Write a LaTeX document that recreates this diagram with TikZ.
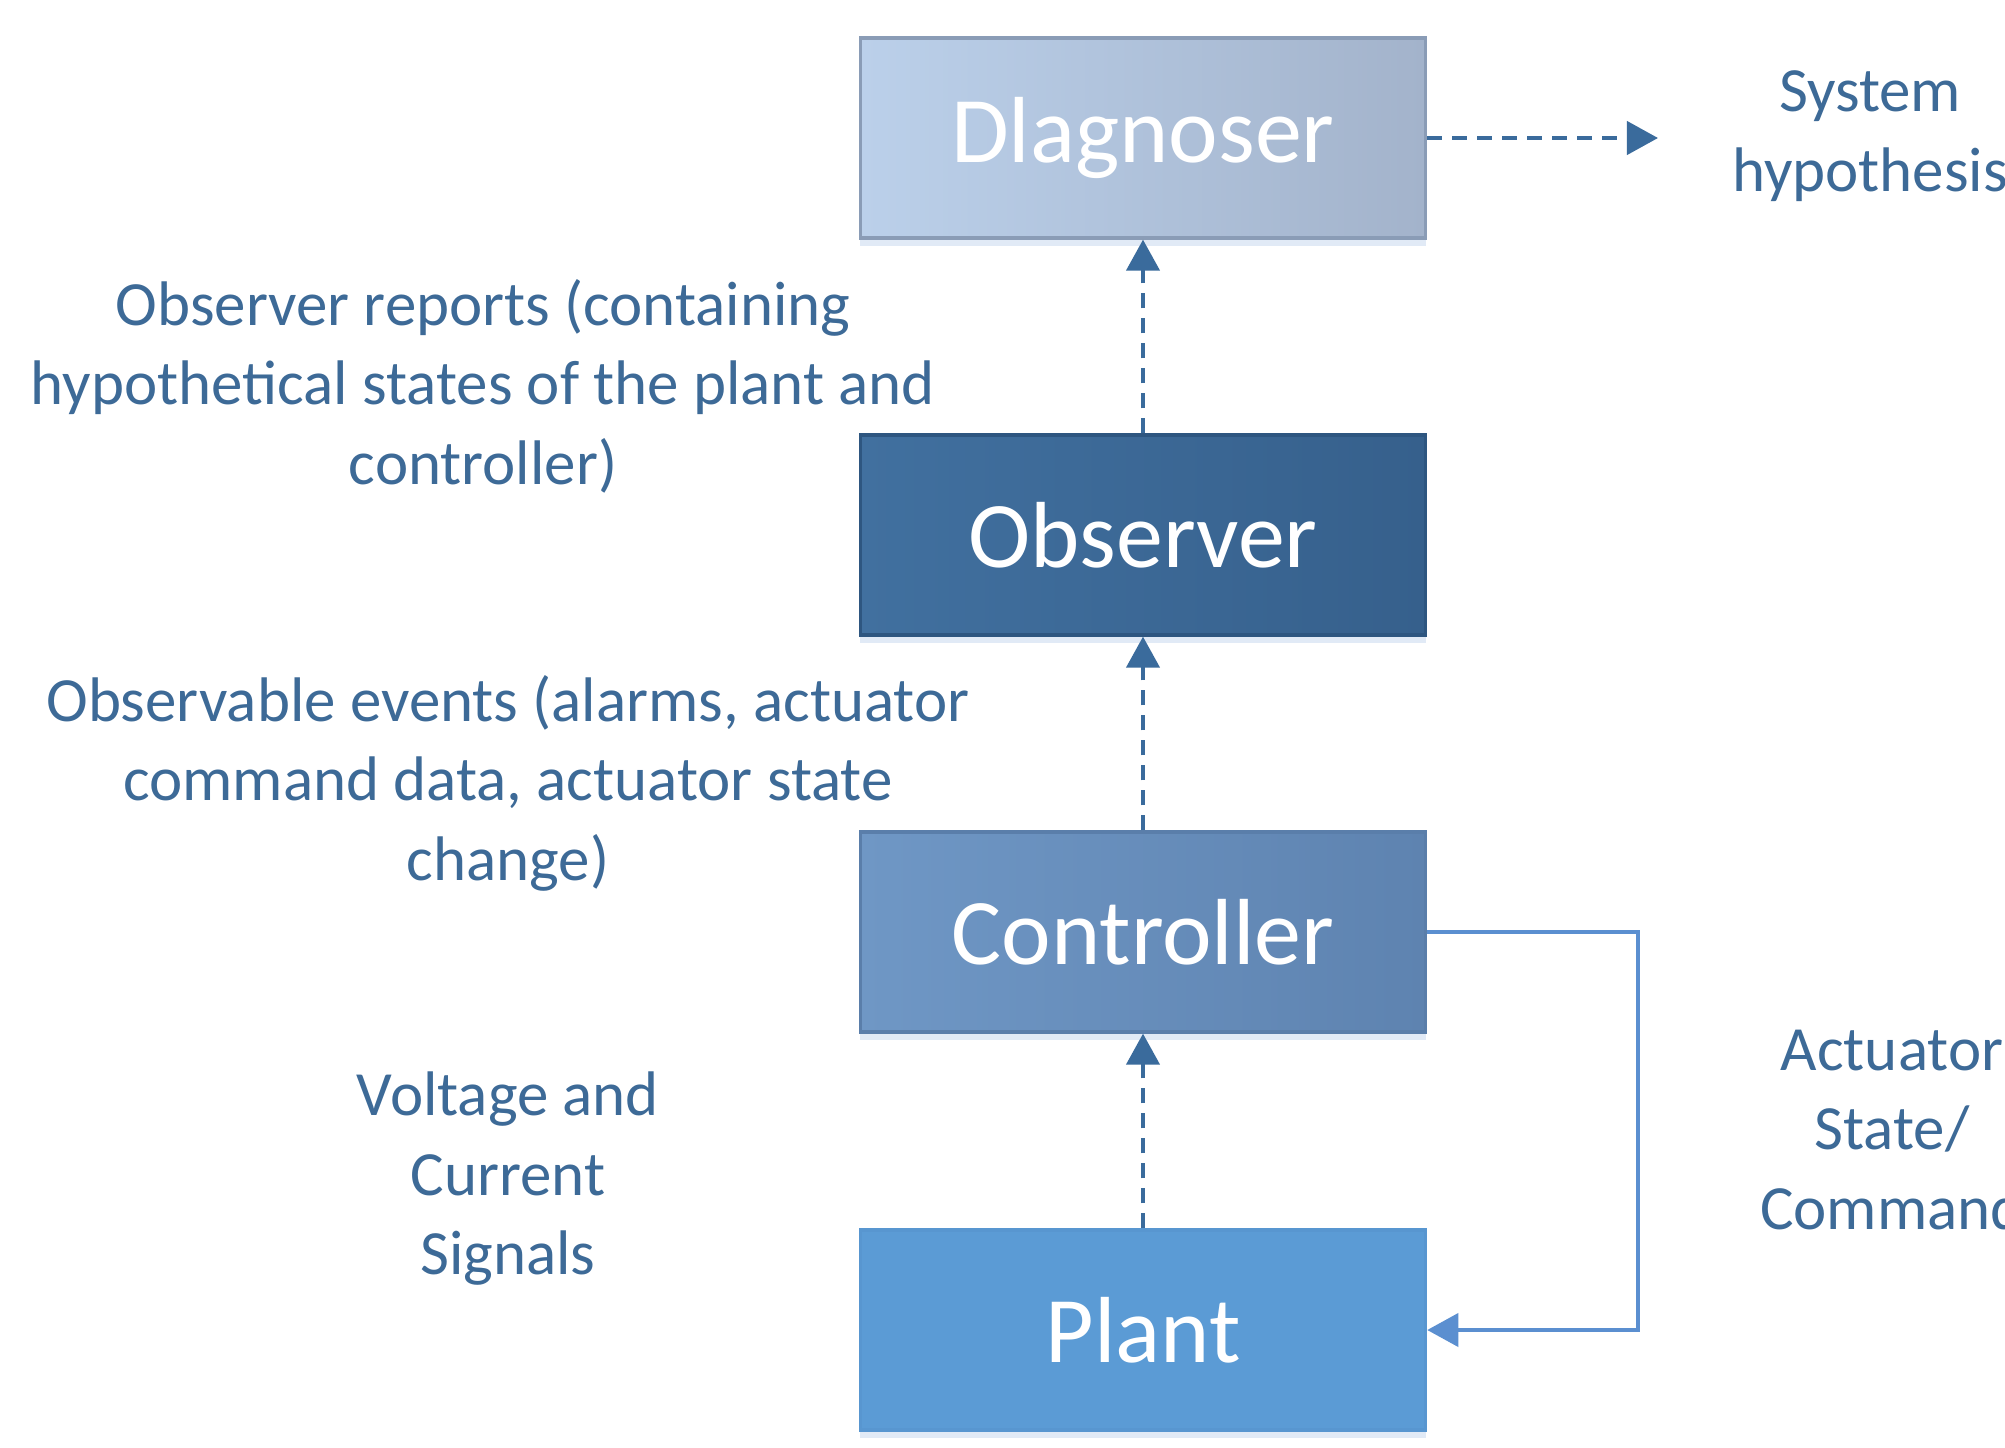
\documentclass[tikz,border=0pt]{standalone}
\usepackage{fontspec}
\setmainfont{Carlito}
\usetikzlibrary{arrows.meta,shadows}
\definecolor{labelblue}{HTML}{3D6A97}
\definecolor{arrowblue}{HTML}{3A6B9C}
\definecolor{loopblue}{HTML}{5B8FD0}
\definecolor{diagA}{HTML}{BBD0EA}
\definecolor{diagB}{HTML}{A3B3CB}
\definecolor{diagD}{HTML}{8A9CB6}
\definecolor{obsA}{HTML}{41709F}
\definecolor{obsB}{HTML}{36608C}
\definecolor{obsD}{HTML}{2E5680}
\definecolor{ctrlA}{HTML}{6F97C5}
\definecolor{ctrlB}{HTML}{5E83B0}
\definecolor{ctrlD}{HTML}{5A7EAA}
\definecolor{plantF}{HTML}{5B9BD5}
\definecolor{plantD}{HTML}{5896D0}
\tikzset{
  block/.style={draw, line width=0.9pt, minimum width=5.65cm, minimum height=2.0cm,
    text=white, font=\fontsize{26.7}{32}\selectfont,
    drop shadow={opacity=0.18, shadow xshift=0pt, shadow yshift=-0.08cm, fill=loopblue}},
  caption/.style={text=labelblue, align=center, font=\fontsize{17.9}{22.6}\selectfont, inner sep=0pt},
  flow/.style={draw=arrowblue, line width=1.2pt, dash pattern=on 0.15cm off 0.1cm,
    -{Triangle[length=0.31cm,width=0.33cm]}},
  feedback/.style={draw=loopblue, line width=1.1pt, -{Triangle[length=0.31cm,width=0.33cm]}}
}
\begin{document}
\begin{tikzpicture}[x=0.01cm,y=-0.01cm]
\useasboundingbox (0,0) rectangle (2005,1448);
\fill[white] (0,0) rectangle (2005,1448);

% the four stacked blocks
\node[block, draw=diagD, left color=diagA, right color=diagB] (diag) at (1143,138) {Dlagnoser};
\node[block, draw=obsD, left color=obsA, right color=obsB] (obs) at (1143,535) {Observer};
\node[block, draw=ctrlD, left color=ctrlA, right color=ctrlB] (ctrl) at (1143,932) {Controller};
\node[block, draw=plantD, fill=plantF] (plant) at (1143,1330) {Plant};

% information flowing upwards
\draw[flow] (plant.north) -- (ctrl.south);
\draw[flow] (ctrl.north) -- (obs.south);
\draw[flow] (obs.north) -- (diag.south);

% diagnoser output
\coordinate (out) at (1658,138);
\draw[flow] (diag.east) -- (out);
\node[caption] (hyp) at (1870,136) {System\\hypothesis};

% actuator feedback loop
\coordinate (c1) at (1638,932);
\coordinate (c2) at (1638,1330);
\draw[feedback] (ctrl.east) -- (c1) -- (c2) -- (plant.east);
\node[caption] (act) at (1892,1130) {Actuator\\State/\\Command};

% edge annotations
\node[caption] (rep) at (483,386) {Observer reports (containing\\hypothetical states of the plant and\\controller)};
\node[caption] (ev) at (508,783) {Observable events (alarms, actuator\\command data, actuator state\\change)};
\node[caption] (sig) at (508,1179) {Voltage and\\Current\\Signals};
\end{tikzpicture}
\end{document}
